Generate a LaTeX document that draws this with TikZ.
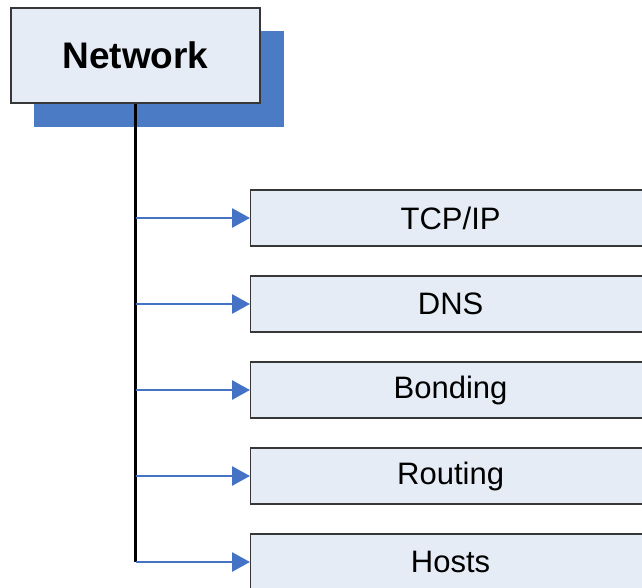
\documentclass[tikz,border=0pt]{standalone}
\usepackage{fontspec}
\setmainfont{Liberation Sans}
\usetikzlibrary{arrows.meta,positioning}
\definecolor{BoxClr}{RGB}{230,236,246}
\definecolor{ShadowClr}{RGB}{74,123,196}
\definecolor{LinkClr}{RGB}{68,114,196}
\definecolor{EdgeClr}{RGB}{55,55,55}

\begin{document}
\begin{tikzpicture}[x=1pt,y=-1pt,
  topbox/.style={draw=EdgeClr,line width=1.2pt,fill=BoxClr,inner sep=0pt,
    minimum width=249pt,minimum height=95pt,font=\fontsize{37}{42}\selectfont\bfseries},
  childbox/.style={draw=EdgeClr,line width=1.2pt,fill=BoxClr,inner sep=0pt,
    minimum width=400pt,minimum height=56pt,font=\fontsize{31}{36}\selectfont},
  trunk/.style={black,line width=3pt},
  link/.style={LinkClr,line width=2.8pt,-{Triangle[length=18pt,width=19pt]}}]

\useasboundingbox (0,0) rectangle (642,588);

% shadow behind the top box
\fill[ShadowClr] (34,31) rectangle (284,127);
\node[topbox] (net) at (135.5,55.5) {Network};

\node[childbox,anchor=west] (tcp) at (250,218) {TCP/IP};
\node[childbox,below=28.8pt of tcp] (dns) {DNS};
\node[childbox,below=28.8pt of dns] (bond) {Bonding};
\node[childbox,below=28.8pt of bond] (route) {Routing};
\node[childbox,below=28.8pt of route] (hosts) {Hosts};

\draw[trunk] (net.south) -- (net.south |- hosts.west);

\foreach \c in {tcp,dns,bond,route,hosts}
  \draw[link] (net.south |- \c.west) -- (\c.west);

\end{tikzpicture}
\end{document}
